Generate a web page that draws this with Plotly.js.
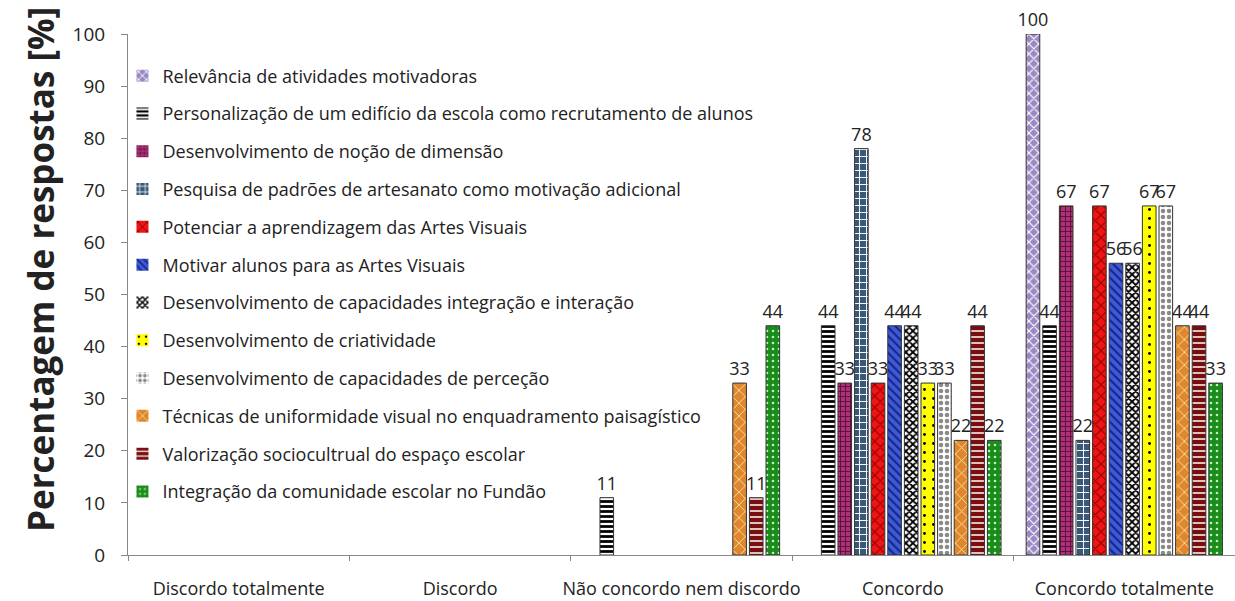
<!DOCTYPE html>
<html>
<head>
<meta charset="utf-8">
<script src="https://cdn.plot.ly/plotly-3.0.1.min.js"></script>
<style>
  html, body { margin: 0; padding: 0; background: #fff; }
  #chart { width: 1235px; height: 601px; }
</style>
</head>
<body>
<div id="chart"></div>
<script>
// answer categories (x axis)
const categories = ["Discordo totalmente", "Discordo", "Não concordo nem discordo", "Concordo", "Concordo totalmente"];

// series names (legend)
const seriesNames = [
    "Relevância de atividades motivadoras",
    "Personalização de um edifício da escola como recrutamento de alunos",
    "Desenvolvimento de noção de dimensão",
    "Pesquisa de padrões de artesanato como motivação adicional",
    "Potenciar a aprendizagem das Artes Visuais",
    "Motivar alunos para as Artes Visuais",
    "Desenvolvimento de capacidades integração e interação",
    "Desenvolvimento de criatividade",
    "Desenvolvimento de capacidades de perceção",
    "Técnicas de uniformidade visual no enquadramento paisagístico",
    "Valorização sociocultrual do espaço escolar",
    "Integração da comunidade escolar no Fundão"
];

// percentages per series, one value per category
const relevancia = [0, 0, 0, 0, 100];
const personalizacao = [0, 0, 11, 44, 44];
const nocaoDimensao = [0, 0, 0, 33, 67];
const pesquisaPadroes = [0, 0, 0, 78, 22];
const potenciar = [0, 0, 0, 33, 67];
const motivar = [0, 0, 0, 44, 56];
const integracaoInteracao = [0, 0, 0, 44, 56];
const criatividade = [0, 0, 0, 33, 67];
const percecao = [0, 0, 0, 33, 67];
const tecnicas = [0, 0, 33, 22, 44];
const valorizacao = [0, 0, 11, 44, 44];
const comunidade = [0, 0, 44, 22, 33];

const seriesValues = [relevancia, personalizacao, nocaoDimensao, pesquisaPadroes, potenciar, motivar,
    integracaoInteracao, criatividade, percecao, tecnicas, valorizacao, comunidade];

// fill patterns, roughly like the Excel ones
const patterns = [
    { shape: "x", bgcolor: "#9a88c4", fgcolor: "#ffffff", size: 7, solidity: 0.3 },
    { shape: "-", bgcolor: "#ffffff", fgcolor: "#000000", size: 5, solidity: 0.55 },
    { shape: "+", bgcolor: "#b0307a", fgcolor: "#4a1030", size: 5, solidity: 0.3 },
    { shape: "+", bgcolor: "#3a5878", fgcolor: "#ffffff", size: 7, solidity: 0.25 },
    { shape: "x", bgcolor: "#f01414", fgcolor: "#8a0000", size: 8, solidity: 0.25 },
    { shape: "\\", bgcolor: "#3b5bdb", fgcolor: "#1a237e", size: 6, solidity: 0.35 },
    { shape: "x", bgcolor: "#ffffff", fgcolor: "#000000", size: 5, solidity: 0.6 },
    { shape: ".", bgcolor: "#ffff00", fgcolor: "#000000", size: 9, solidity: 0.08 },
    { shape: ".", bgcolor: "#ffffff", fgcolor: "#8a8a8a", size: 6, solidity: 0.45 },
    { shape: "x", bgcolor: "#e0862c", fgcolor: "#f8e0a0", size: 9, solidity: 0.2 },
    { shape: "-", bgcolor: "#7a0e0e", fgcolor: "#ffffff", size: 6, solidity: 0.25 },
    { shape: ".", bgcolor: "#1a8c1a", fgcolor: "#c0f0c0", size: 6, solidity: 0.15 }
];

const data = [];
for (let i = 0; i < seriesValues.length; i++) {
    data.push({
        type: "bar",
        name: seriesNames[i],
        legendgroup: "g" + i,
        x: categories,
        y: seriesValues[i],
        text: seriesValues[i].map(v => v > 0 ? String(v) : ""),
        textposition: "outside",
        constraintext: "none",
        cliponaxis: false,
        textfont: { size: 18, color: "#222222" },
        hoverinfo: "none",
        marker: {
            color: patterns[i].bgcolor,
            // no outline on empty (zero) bars
            line: { color: "#333333", width: seriesValues[i].map(v => v > 0 ? 1 : 0) },
            pattern: {
                shape: patterns[i].shape,
                bgcolor: patterns[i].bgcolor,
                fgcolor: patterns[i].fgcolor,
                size: patterns[i].size,
                solidity: patterns[i].solidity,
                fillmode: "replace"
            }
        }
    });
}

const layout = {
    width: 1235,
    height: 601,
    margin: { l: 128, r: 0, t: 34, b: 46 },
    paper_bgcolor: "#ffffff",
    plot_bgcolor: "#ffffff",
    font: { family: "Open Sans, sans-serif", color: "#222222" },
    barmode: "group",
    bargap: 0.1,
    bargroupgap: 0.18,
    showlegend: true,
    legend: {
        x: -0.005, y: 0.955, xanchor: "left", yanchor: "top",
        bgcolor: "rgba(0,0,0,0)",
        font: { size: 18, color: "#222222" },
        tracegroupgap: 11.4,
        traceorder: "grouped"
    },
    xaxis: {
        type: "category",
        range: [-0.5, 4.5],
        showline: true,
        linecolor: "#888888",
        ticks: "outside",
        tickson: "boundaries",
        ticklen: 5,
        tickcolor: "#888888",
        tickangle: 0,
        tickfont: { size: 18, color: "#222222" },
        ticklabelstandoff: 17,
        showgrid: false,
        automargin: false
    },
    yaxis: {
        range: [0, 100],
        dtick: 10,
        showline: true,
        linecolor: "#888888",
        ticks: "outside",
        ticklen: 6,
        tickcolor: "#888888",
        tickfont: { size: 19, color: "#222222" },
        ticklabelstandoff: 12,
        showgrid: false,
        zeroline: false,
        automargin: false
    },
    annotations: [{
        text: "<b>Percentagem de respostas [%]</b>",
        textangle: -90,
        xref: "paper", yref: "paper",
        x: (40 - 128) / 1107, y: (555 - 270) / 521,
        xanchor: "center", yanchor: "middle",
        showarrow: false,
        font: { size: 35, color: "#222222" }
    }]
};

Plotly.newPlot("chart", data, layout, { staticPlot: true, displayModeBar: false });
</script>
</body>
</html>
